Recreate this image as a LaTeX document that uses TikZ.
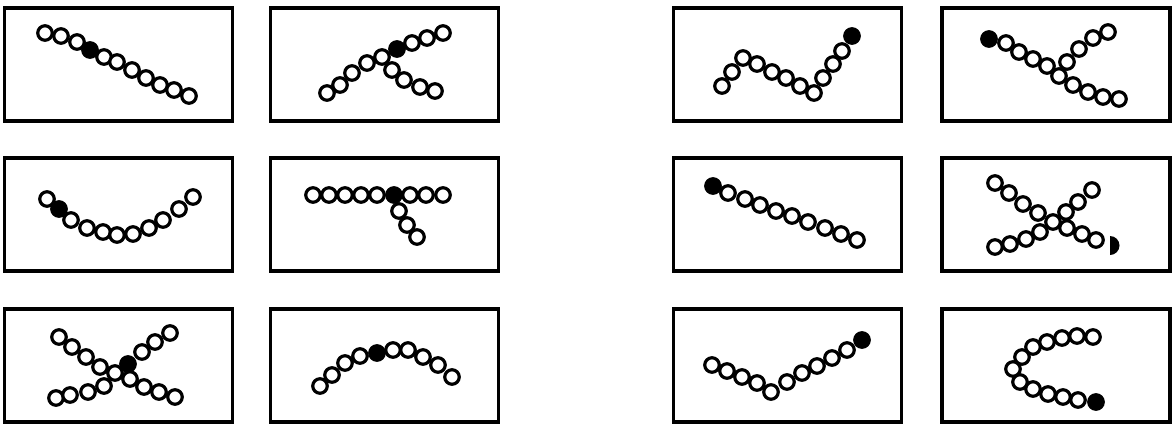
\documentclass[tikz,border=0pt]{standalone}
\usepackage{tikz}
\usetikzlibrary{positioning}

\begin{document}
\begin{tikzpicture}[x=1pt, y=-1pt,
			panel/.style={
				draw,
				line width=3.4pt,
				minimum width=228pt,
				minimum height=113pt,
				inner sep=0pt
			},
			bead/.style={
				circle,
				draw,
				fill=white,
				line width=3.2pt,
				minimum size=14.5pt,
				inner sep=0pt
			},
			headbead/.style={
				bead,
				fill=black
			}
			]
			
			\useasboundingbox (0,0) rectangle (1175,423);
			
			% Panels
			\node[panel] (box1) at (118.5,64.5) {};
			\node[panel] (box2) at (384.5,64.5) {};
			\node[panel] (box3) at (787.5,64.5) {};
			\node[panel] (box4) at (1056,64.5) {};
			\node[panel] (box5) at (118.5,214.5) {};
			\node[panel] (box6) at (384.5,214.5) {};
			\node[panel] (box7) at (787.5,214.5) {};
			\node[panel] (box8) at (1056,214.5) {};
			\node[panel] (box9) at (118.5,365.5) {};
			\node[panel] (box10) at (384.5,365.5) {};
			\node[panel] (box11) at (787.5,365.5) {};
			\node[panel] (box12) at (1056,365.5) {};
			
			% Chain 1
			\foreach \x/\y [count=\i] in {45/33, 61/36, 77/42, 104/57, 117/62, 132/70, 146/78, 160/85, 174/90, 189/96}
				\node[bead] (c1-\i) at (\x,\y) {};
			\node[headbead] (h1) at (90,50) {};
			
			% Chain 2
			\foreach \x/\y [count=\i] in {392/70, 404/80, 420/87, 435/91, 327/93, 340/85, 352/73, 367/63, 382/57, 412/43, 427/38, 443/33}
				\node[bead] (c2-\i) at (\x,\y) {};
			\node[headbead] (h2) at (397,49) {};
			
			% Chain 3
			\foreach \x/\y [count=\i] in {722/86, 732/72, 743/58, 757/64, 772/72, 786/78, 800/86, 814/93, 823/78, 833/64, 842/51}
				\node[bead] (c3-\i) at (\x,\y) {};
			\node[headbead] (h3) at (852,36) {};
			
			% Chain 4
			\foreach \x/\y [count=\i] in {1067/62, 1079/49, 1093/38, 1108/32, 1006/43, 1019/52, 1033/59, 1047/66, 1059/76, 1073/85, 1088/92, 1103/97, 1119/99}
				\node[bead] (c4-\i) at (\x,\y) {};
			\node[headbead] (h4) at (989,39) {};
			
			% Chain 5
			\foreach \x/\y [count=\i] in {47/199, 71/220, 87/228, 103/232, 117/235, 133/234, 149/228, 163/220, 179/209, 193/197}
				\node[bead] (c5-\i) at (\x,\y) {};
			\node[headbead] (h5) at (59,209) {};
			
			% Chain 6
			\foreach \x/\y [count=\i] in {313/195, 329/195, 345/195, 361/195, 377/195, 410/195, 426/195, 443/195, 399/211, 407/225, 417/237}
				\node[bead] (c6-\i) at (\x,\y) {};
			\node[headbead] (h6) at (394,195) {};
			
			% Chain 7
			\foreach \x/\y [count=\i] in {728/193, 745/199, 760/205, 776/211, 792/216, 808/222, 825/228, 841/234, 857/240}
				\node[bead] (c7-\i) at (\x,\y) {};
			\node[headbead] (h7) at (713,186) {};
			
			% Chain 8
			\foreach \x/\y [count=\i] in {995/183, 1009/193, 1023/204, 1038/213, 995/247, 1010/244, 1026/239, 1040/232, 1053/222, 1066/212, 1078/202, 1092/190, 1067/228, 1082/234, 1096/240}
				\node[bead] (c8-\i) at (\x,\y) {};
			\fill (1110,236) arc[start angle=-90, end angle=90, radius=9.5] -- cycle;
			
			% Chain 9
			\foreach \x/\y [count=\i] in {59/337, 72/347, 86/357, 100/367, 130/379, 144/387, 159/392, 175/397, 56/398, 70/395, 88/392, 104/386, 115/373, 142/352, 155/342, 170/333}
				\node[bead] (c9-\i) at (\x,\y) {};
			\node[headbead] (h9) at (128,364) {};
			
			% Chain 10
			\foreach \x/\y [count=\i] in {320/386, 332/375, 345/363, 360/356, 393/350, 408/350, 423/357, 438/365, 452/377}
				\node[bead] (c10-\i) at (\x,\y) {};
			\node[headbead] (h10) at (377,353) {};
			
			% Chain 11
			\foreach \x/\y [count=\i] in {712/365, 727/371, 742/377, 757/383, 771/392, 787/382, 802/373, 817/366, 832/358, 847/350}
				\node[bead] (c11-\i) at (\x,\y) {};
			\node[headbead] (h11) at (862,340) {};
			
			% Chain 12
			\foreach \x/\y [count=\i] in {1077/336, 1062/338, 1047/342, 1033/347, 1022/357, 1013/369, 1020/382, 1033/389, 1048/394, 1063/397, 1078/400}
				\node[bead] (c12-\i) at (\x,\y) {};
			\node[bead] (t12) at (1093,337) {};
			\node[headbead] (h12) at (1096,402) {};
			
		\end{tikzpicture}
\end{document}
